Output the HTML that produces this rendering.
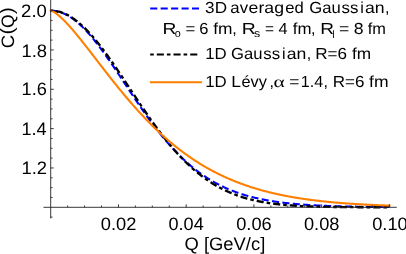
<!DOCTYPE html>
<html><head><meta charset="utf-8"><title>C(Q)</title>
<style>html,body{margin:0;padding:0;background:#fff;}body{width:406px;height:254px;position:relative;overflow:hidden;font-family:"Liberation Sans",sans-serif;}</style>
</head><body>
<svg width="406" height="254" viewBox="0 0 406 254" style="position:absolute;left:0;top:0">
<rect width="406" height="254" fill="#fff"/>
<path d="M50.70,10.60 L51.55,10.61 L52.39,10.65 L53.24,10.71 L54.09,10.80 L54.93,10.90 L55.78,11.04 L56.63,11.20 L57.47,11.38 L58.32,11.59 L59.17,11.82 L60.01,12.07 L60.86,12.35 L61.71,12.65 L62.55,12.98 L63.40,13.33 L64.25,13.70 L65.09,14.09 L65.94,14.51 L66.79,14.95 L67.64,15.42 L68.48,15.90 L69.33,16.41 L70.18,16.94 L71.02,17.49 L71.87,18.07 L72.72,18.66 L73.56,19.28 L74.41,19.92 L75.26,20.58 L76.10,21.26 L76.95,21.95 L77.80,22.67 L78.64,23.41 L79.49,24.17 L80.34,24.95 L81.18,25.74 L82.03,26.55 L82.88,27.39 L83.72,28.24 L84.57,29.10 L85.42,29.99 L86.26,30.89 L87.11,31.81 L87.96,32.74 L88.80,33.69 L89.65,34.65 L90.50,35.63 L91.34,36.63 L92.19,37.64 L93.04,38.66 L93.88,39.70 L94.73,40.75 L95.58,41.81 L96.42,42.88 L97.27,43.97 L98.12,45.07 L98.96,46.18 L99.81,47.30 L100.66,48.44 L101.50,49.58 L102.35,50.73 L103.20,51.89 L104.05,53.06 L104.89,54.24 L105.74,55.43 L106.59,56.63 L107.43,57.83 L108.28,59.04 L109.13,60.26 L109.97,61.49 L110.82,62.72 L111.67,63.95 L112.51,65.19 L113.36,66.44 L114.21,67.69 L115.05,68.95 L115.90,70.21 L116.75,71.47 L117.59,72.73 L118.44,74.00 L119.29,75.27 L120.13,76.55 L120.98,77.82 L121.83,79.10 L122.67,80.38 L123.52,81.65 L124.37,82.93 L125.21,84.21 L126.06,85.49 L126.91,86.77 L127.75,88.04 L128.60,89.32 L129.45,90.59 L130.29,91.87 L131.14,93.14 L131.99,94.41 L132.83,95.67 L133.68,96.94 L134.53,98.20 L135.38,99.45 L136.22,100.70 L137.07,101.95 L137.92,103.20 L138.76,104.44 L139.61,105.67 L140.46,106.90 L141.30,108.13 L142.15,109.35 L143.00,110.56 L143.84,111.77 L144.69,112.97 L145.54,114.17 L146.38,115.36 L147.23,116.55 L148.08,117.72 L148.92,118.89 L149.77,120.05 L150.62,121.21 L151.46,122.36 L152.31,123.50 L153.16,124.63 L154.00,125.76 L154.85,126.87 L155.70,127.98 L156.54,129.08 L157.39,130.18 L158.24,131.26 L159.08,132.34 L159.93,133.40 L160.78,134.46 L161.62,135.51 L162.47,136.55 L163.32,137.58 L164.16,138.60 L165.01,139.61 L165.86,140.62 L166.70,141.61 L167.55,142.59 L168.40,143.57 L169.25,144.53 L170.09,145.49 L170.94,146.44 L171.79,147.37 L172.63,148.30 L173.48,149.22 L174.33,150.13 L175.17,151.02 L176.02,151.91 L176.87,152.79 L177.71,153.66 L178.56,154.52 L179.41,155.37 L180.25,156.20 L181.10,157.03 L181.95,157.85 L182.79,158.66 L183.64,159.46 L184.49,160.25 L185.33,161.03 L186.18,161.81 L187.03,162.57 L187.87,163.32 L188.72,164.06 L189.57,164.79 L190.41,165.52 L191.26,166.23 L192.11,166.93 L192.95,167.63 L193.80,168.31 L194.65,168.99 L195.49,169.66 L196.34,170.32 L197.19,170.96 L198.03,171.60 L198.88,172.23 L199.73,172.86 L200.57,173.47 L201.42,174.07 L202.27,174.67 L203.12,175.25 L203.96,175.83 L204.81,176.40 L205.66,176.96 L206.50,177.52 L207.35,178.06 L208.20,178.60 L209.04,179.12 L209.89,179.64 L210.74,180.16 L211.58,180.66 L212.43,181.16 L213.28,181.64 L214.12,182.12 L214.97,182.60 L215.82,183.06 L216.66,183.52 L217.51,183.97 L218.36,184.41 L219.20,184.85 L220.05,185.28 L220.90,185.70 L221.74,186.11 L222.59,186.52 L223.44,186.92 L224.28,187.32 L225.13,187.71 L225.98,188.09 L226.82,188.46 L227.67,188.83 L228.52,189.19 L229.36,189.55 L230.21,189.90 L231.06,190.24 L231.90,190.58 L232.75,190.91 L233.60,191.23 L234.44,191.55 L235.29,191.87 L236.14,192.18 L236.99,192.48 L237.83,192.78 L238.68,193.07 L239.53,193.36 L240.37,193.64 L241.22,193.92 L242.07,194.19 L242.91,194.46 L243.76,194.72 L244.61,194.97 L245.45,195.23 L246.30,195.47 L247.15,195.72 L247.99,195.96 L248.84,196.19 L249.69,196.42 L250.53,196.65 L251.38,196.87 L252.23,197.08 L253.07,197.30 L253.92,197.50 L254.77,197.71 L255.61,197.91 L256.46,198.11 L257.31,198.30 L258.15,198.49 L259.00,198.68 L259.85,198.86 L260.69,199.04 L261.54,199.21 L262.39,199.38 L263.23,199.55 L264.08,199.72 L264.93,199.88 L265.77,200.04 L266.62,200.19 L267.47,200.34 L268.31,200.49 L269.16,200.64 L270.01,200.78 L270.86,200.92 L271.70,201.06 L272.55,201.20 L273.40,201.33 L274.24,201.46 L275.09,201.59 L275.94,201.71 L276.78,201.83 L277.63,201.95 L278.48,202.07 L279.32,202.18 L280.17,202.30 L281.02,202.41 L281.86,202.51 L282.71,202.62 L283.56,202.72 L284.40,202.82 L285.25,202.92 L286.10,203.02 L286.94,203.11 L287.79,203.21 L288.64,203.30 L289.48,203.39 L290.33,203.47 L291.18,203.56 L292.02,203.64 L292.87,203.72 L293.72,203.80 L294.56,203.88 L295.41,203.96 L296.26,204.04 L297.10,204.11 L297.95,204.18 L298.80,204.25 L299.64,204.32 L300.49,204.39 L301.34,204.45 L302.18,204.52 L303.03,204.58 L303.88,204.64 L304.72,204.70 L305.57,204.76 L306.42,204.82 L307.27,204.88 L308.11,204.93 L308.96,204.99 L309.81,205.04 L310.65,205.09 L311.50,205.14 L312.35,205.19 L313.19,205.24 L314.04,205.29 L314.89,205.34 L315.73,205.38 L316.58,205.43 L317.43,205.47 L318.27,205.51 L319.12,205.55 L319.97,205.59 L320.81,205.63 L321.66,205.67 L322.51,205.71 L323.35,205.75 L324.20,205.78 L325.05,205.82 L325.89,205.86 L326.74,205.89 L327.59,205.92 L328.43,205.95 L329.28,205.99 L330.13,206.02 L330.97,206.05 L331.82,206.08 L332.67,206.11 L333.51,206.14 L334.36,206.16 L335.21,206.19 L336.05,206.22 L336.90,206.24 L337.75,206.27 L338.60,206.29 L339.44,206.32 L340.29,206.34 L341.14,206.36 L341.98,206.39 L342.83,206.41 L343.68,206.43 L344.52,206.45 L345.37,206.47 L346.22,206.49 L347.06,206.51 L347.91,206.53 L348.76,206.55 L349.60,206.57 L350.45,206.58 L351.30,206.60 L352.14,206.62 L352.99,206.64 L353.84,206.65 L354.68,206.67 L355.53,206.68 L356.38,206.70 L357.22,206.71 L358.07,206.73 L358.92,206.74 L359.76,206.76 L360.61,206.77 L361.46,206.78 L362.30,206.79 L363.15,206.81 L364.00,206.82 L364.84,206.83 L365.69,206.84 L366.54,206.85 L367.38,206.87 L368.23,206.88 L369.08,206.89 L369.92,206.90 L370.77,206.91 L371.62,206.92 L372.46,206.93 L373.31,206.94 L374.16,206.95 L375.01,206.95 L375.85,206.96 L376.70,206.97 L377.55,206.98 L378.39,206.99 L379.24,207.00 L380.09,207.00 L380.93,207.01 L381.78,207.02 L382.63,207.03 L383.47,207.03 L384.32,207.04 L385.17,207.05 L386.01,207.05 L386.86,207.06 L387.71,207.07 L388.55,207.07 L389.40,207.08" fill="none" stroke="#0000ff" stroke-width="2.05" stroke-dasharray="7.1 3.35"/>
<path d="M50.70,10.60 L51.55,10.61 L52.39,10.65 L53.24,10.70 L54.09,10.78 L54.93,10.88 L55.78,11.01 L56.63,11.16 L57.47,11.33 L58.32,11.52 L59.17,11.73 L60.01,11.97 L60.86,12.23 L61.71,12.51 L62.55,12.82 L63.40,13.14 L64.25,13.49 L65.09,13.86 L65.94,14.25 L66.79,14.66 L67.64,15.09 L68.48,15.55 L69.33,16.02 L70.18,16.52 L71.02,17.04 L71.87,17.58 L72.72,18.14 L73.56,18.71 L74.41,19.31 L75.26,19.93 L76.10,20.57 L76.95,21.22 L77.80,21.90 L78.64,22.60 L79.49,23.31 L80.34,24.04 L81.18,24.79 L82.03,25.56 L82.88,26.35 L83.72,27.15 L84.57,27.97 L85.42,28.81 L86.26,29.66 L87.11,30.53 L87.96,31.42 L88.80,32.32 L89.65,33.24 L90.50,34.17 L91.34,35.12 L92.19,36.08 L93.04,37.06 L93.88,38.05 L94.73,39.05 L95.58,40.07 L96.42,41.10 L97.27,42.14 L98.12,43.20 L98.96,44.27 L99.81,45.35 L100.66,46.44 L101.50,47.54 L102.35,48.65 L103.20,49.78 L104.05,50.91 L104.89,52.06 L105.74,53.21 L106.59,54.37 L107.43,55.54 L108.28,56.72 L109.13,57.91 L109.97,59.10 L110.82,60.31 L111.67,61.51 L112.51,62.73 L113.36,63.95 L114.21,65.18 L115.05,66.42 L115.90,67.66 L116.75,68.90 L117.59,70.15 L118.44,71.41 L119.29,72.66 L120.13,73.93 L120.98,75.19 L121.83,76.46 L122.67,77.73 L123.52,79.01 L124.37,80.28 L125.21,81.56 L126.06,82.84 L126.91,84.12 L127.75,85.40 L128.60,86.68 L129.45,87.97 L130.29,89.25 L131.14,90.53 L131.99,91.81 L132.83,93.09 L133.68,94.37 L134.53,95.65 L135.38,96.93 L136.22,98.20 L137.07,99.47 L137.92,100.74 L138.76,102.01 L139.61,103.28 L140.46,104.54 L141.30,105.79 L142.15,107.05 L143.00,108.30 L143.84,109.54 L144.69,110.78 L145.54,112.02 L146.38,113.25 L147.23,114.47 L148.08,115.69 L148.92,116.91 L149.77,118.12 L150.62,119.32 L151.46,120.52 L152.31,121.71 L153.16,122.89 L154.00,124.07 L154.85,125.24 L155.70,126.40 L156.54,127.56 L157.39,128.70 L158.24,129.84 L159.08,130.98 L159.93,132.10 L160.78,133.22 L161.62,134.33 L162.47,135.43 L163.32,136.52 L164.16,137.60 L165.01,138.68 L165.86,139.75 L166.70,140.80 L167.55,141.85 L168.40,142.89 L169.25,143.92 L170.09,144.94 L170.94,145.95 L171.79,146.95 L172.63,147.95 L173.48,148.93 L174.33,149.90 L175.17,150.87 L176.02,151.82 L176.87,152.76 L177.71,153.70 L178.56,154.62 L179.41,155.54 L180.25,156.44 L181.10,157.34 L181.95,158.22 L182.79,159.09 L183.64,159.96 L184.49,160.81 L185.33,161.66 L186.18,162.49 L187.03,163.31 L187.87,164.13 L188.72,164.93 L189.57,165.72 L190.41,166.51 L191.26,167.28 L192.11,168.04 L192.95,168.79 L193.80,169.54 L194.65,170.27 L195.49,170.99 L196.34,171.70 L197.19,172.41 L198.03,173.10 L198.88,173.78 L199.73,174.45 L200.57,175.12 L201.42,175.77 L202.27,176.41 L203.12,177.05 L203.96,177.67 L204.81,178.29 L205.66,178.89 L206.50,179.49 L207.35,180.08 L208.20,180.65 L209.04,181.22 L209.89,181.78 L210.74,182.33 L211.58,182.87 L212.43,183.40 L213.28,183.93 L214.12,184.44 L214.97,184.95 L215.82,185.44 L216.66,185.93 L217.51,186.41 L218.36,186.88 L219.20,187.35 L220.05,187.80 L220.90,188.25 L221.74,188.69 L222.59,189.12 L223.44,189.54 L224.28,189.95 L225.13,190.36 L225.98,190.76 L226.82,191.15 L227.67,191.54 L228.52,191.91 L229.36,192.28 L230.21,192.65 L231.06,193.00 L231.90,193.35 L232.75,193.69 L233.60,194.03 L234.44,194.35 L235.29,194.68 L236.14,194.99 L236.99,195.30 L237.83,195.60 L238.68,195.90 L239.53,196.19 L240.37,196.47 L241.22,196.75 L242.07,197.02 L242.91,197.28 L243.76,197.54 L244.61,197.80 L245.45,198.05 L246.30,198.29 L247.15,198.53 L247.99,198.76 L248.84,198.99 L249.69,199.21 L250.53,199.43 L251.38,199.64 L252.23,199.85 L253.07,200.05 L253.92,200.25 L254.77,200.44 L255.61,200.63 L256.46,200.81 L257.31,200.99 L258.15,201.17 L259.00,201.34 L259.85,201.51 L260.69,201.67 L261.54,201.83 L262.39,201.99 L263.23,202.14 L264.08,202.29 L264.93,202.43 L265.77,202.57 L266.62,202.71 L267.47,202.84 L268.31,202.97 L269.16,203.10 L270.01,203.22 L270.86,203.34 L271.70,203.46 L272.55,203.57 L273.40,203.69 L274.24,203.79 L275.09,203.90 L275.94,204.00 L276.78,204.10 L277.63,204.20 L278.48,204.29 L279.32,204.39 L280.17,204.48 L281.02,204.56 L281.86,204.65 L282.71,204.73 L283.56,204.81 L284.40,204.89 L285.25,204.96 L286.10,205.04 L286.94,205.11 L287.79,205.18 L288.64,205.25 L289.48,205.31 L290.33,205.38 L291.18,205.44 L292.02,205.50 L292.87,205.56 L293.72,205.61 L294.56,205.67 L295.41,205.72 L296.26,205.77 L297.10,205.83 L297.95,205.87 L298.80,205.92 L299.64,205.97 L300.49,206.01 L301.34,206.06 L302.18,206.10 L303.03,206.14 L303.88,206.18 L304.72,206.22 L305.57,206.25 L306.42,206.29 L307.27,206.32 L308.11,206.36 L308.96,206.39 L309.81,206.42 L310.65,206.45 L311.50,206.48 L312.35,206.51 L313.19,206.54 L314.04,206.56 L314.89,206.59 L315.73,206.62 L316.58,206.64 L317.43,206.66 L318.27,206.69 L319.12,206.71 L319.97,206.73 L320.81,206.75 L321.66,206.77 L322.51,206.79 L323.35,206.81 L324.20,206.83 L325.05,206.84 L325.89,206.86 L326.74,206.88 L327.59,206.89 L328.43,206.91 L329.28,206.92 L330.13,206.94 L330.97,206.95 L331.82,206.96 L332.67,206.98 L333.51,206.99 L334.36,207.00 L335.21,207.01 L336.05,207.02 L336.90,207.03 L337.75,207.04 L338.60,207.05 L339.44,207.06 L340.29,207.07 L341.14,207.08 L341.98,207.09 L342.83,207.10 L343.68,207.11 L344.52,207.11 L345.37,207.12 L346.22,207.13 L347.06,207.13 L347.91,207.14 L348.76,207.15 L349.60,207.15 L350.45,207.16 L351.30,207.16 L352.14,207.17 L352.99,207.18 L353.84,207.18 L354.68,207.19 L355.53,207.19 L356.38,207.19 L357.22,207.20 L358.07,207.20 L358.92,207.21 L359.76,207.21 L360.61,207.21 L361.46,207.22 L362.30,207.22 L363.15,207.22 L364.00,207.23 L364.84,207.23 L365.69,207.23 L366.54,207.24 L367.38,207.24 L368.23,207.24 L369.08,207.24 L369.92,207.25 L370.77,207.25 L371.62,207.25 L372.46,207.25 L373.31,207.26 L374.16,207.26 L375.01,207.26 L375.85,207.26 L376.70,207.26 L377.55,207.26 L378.39,207.27 L379.24,207.27 L380.09,207.27 L380.93,207.27 L381.78,207.27 L382.63,207.27 L383.47,207.27 L384.32,207.27 L385.17,207.28 L386.01,207.28 L386.86,207.28 L387.71,207.28 L388.55,207.28 L389.40,207.28" fill="none" stroke="#000" stroke-width="2.35" stroke-dasharray="3.6 3 7.1 3" stroke-dashoffset="1.1"/>
<path d="M50.70,10.60 L51.55,10.61 L52.39,10.65 L53.24,10.70 L54.09,10.78 L54.93,10.88 L55.78,11.01 L56.63,11.16 L57.47,11.33 L58.32,11.52" fill="none" stroke="#000" stroke-width="1.2" transform="translate(-0.2,0.6)"/>
<path d="M50.70,10.60 L51.55,10.81 L52.39,11.16 L53.24,11.59 L54.09,12.07 L54.93,12.61 L55.78,13.19 L56.63,13.81 L57.47,14.46 L58.32,15.15 L59.17,15.86 L60.01,16.60 L60.86,17.37 L61.71,18.15 L62.55,18.96 L63.40,19.79 L64.25,20.63 L65.09,21.50 L65.94,22.38 L66.79,23.27 L67.64,24.18 L68.48,25.11 L69.33,26.05 L70.18,27.00 L71.02,27.96 L71.87,28.93 L72.72,29.91 L73.56,30.90 L74.41,31.90 L75.26,32.91 L76.10,33.93 L76.95,34.95 L77.80,35.99 L78.64,37.03 L79.49,38.07 L80.34,39.12 L81.18,40.18 L82.03,41.24 L82.88,42.31 L83.72,43.38 L84.57,44.45 L85.42,45.53 L86.26,46.61 L87.11,47.70 L87.96,48.78 L88.80,49.87 L89.65,50.96 L90.50,52.06 L91.34,53.15 L92.19,54.25 L93.04,55.35 L93.88,56.45 L94.73,57.55 L95.58,58.65 L96.42,59.75 L97.27,60.84 L98.12,61.94 L98.96,63.04 L99.81,64.14 L100.66,65.24 L101.50,66.34 L102.35,67.43 L103.20,68.52 L104.05,69.62 L104.89,70.71 L105.74,71.80 L106.59,72.88 L107.43,73.97 L108.28,75.05 L109.13,76.13 L109.97,77.21 L110.82,78.28 L111.67,79.35 L112.51,80.42 L113.36,81.49 L114.21,82.55 L115.05,83.61 L115.90,84.66 L116.75,85.71 L117.59,86.76 L118.44,87.81 L119.29,88.85 L120.13,89.88 L120.98,90.91 L121.83,91.94 L122.67,92.97 L123.52,93.99 L124.37,95.00 L125.21,96.01 L126.06,97.02 L126.91,98.02 L127.75,99.02 L128.60,100.01 L129.45,100.99 L130.29,101.98 L131.14,102.95 L131.99,103.93 L132.83,104.89 L133.68,105.86 L134.53,106.81 L135.38,107.77 L136.22,108.71 L137.07,109.65 L137.92,110.59 L138.76,111.52 L139.61,112.44 L140.46,113.36 L141.30,114.28 L142.15,115.19 L143.00,116.09 L143.84,116.99 L144.69,117.88 L145.54,118.77 L146.38,119.65 L147.23,120.52 L148.08,121.39 L148.92,122.25 L149.77,123.11 L150.62,123.96 L151.46,124.81 L152.31,125.65 L153.16,126.49 L154.00,127.31 L154.85,128.14 L155.70,128.95 L156.54,129.77 L157.39,130.57 L158.24,131.37 L159.08,132.16 L159.93,132.95 L160.78,133.73 L161.62,134.51 L162.47,135.28 L163.32,136.05 L164.16,136.80 L165.01,137.56 L165.86,138.30 L166.70,139.05 L167.55,139.78 L168.40,140.51 L169.25,141.23 L170.09,141.95 L170.94,142.66 L171.79,143.37 L172.63,144.07 L173.48,144.77 L174.33,145.45 L175.17,146.14 L176.02,146.82 L176.87,147.49 L177.71,148.15 L178.56,148.81 L179.41,149.47 L180.25,150.12 L181.10,150.76 L181.95,151.40 L182.79,152.03 L183.64,152.66 L184.49,153.28 L185.33,153.90 L186.18,154.51 L187.03,155.11 L187.87,155.71 L188.72,156.31 L189.57,156.89 L190.41,157.48 L191.26,158.05 L192.11,158.63 L192.95,159.19 L193.80,159.76 L194.65,160.31 L195.49,160.86 L196.34,161.41 L197.19,161.95 L198.03,162.49 L198.88,163.02 L199.73,163.54 L200.57,164.06 L201.42,164.58 L202.27,165.09 L203.12,165.60 L203.96,166.10 L204.81,166.59 L205.66,167.08 L206.50,167.57 L207.35,168.05 L208.20,168.53 L209.04,169.00 L209.89,169.47 L210.74,169.93 L211.58,170.39 L212.43,170.84 L213.28,171.29 L214.12,171.73 L214.97,172.17 L215.82,172.60 L216.66,173.03 L217.51,173.46 L218.36,173.88 L219.20,174.30 L220.05,174.71 L220.90,175.12 L221.74,175.52 L222.59,175.92 L223.44,176.31 L224.28,176.71 L225.13,177.09 L225.98,177.47 L226.82,177.85 L227.67,178.23 L228.52,178.60 L229.36,178.96 L230.21,179.33 L231.06,179.68 L231.90,180.04 L232.75,180.39 L233.60,180.74 L234.44,181.08 L235.29,181.42 L236.14,181.75 L236.99,182.08 L237.83,182.41 L238.68,182.74 L239.53,183.06 L240.37,183.37 L241.22,183.69 L242.07,184.00 L242.91,184.30 L243.76,184.61 L244.61,184.90 L245.45,185.20 L246.30,185.49 L247.15,185.78 L247.99,186.07 L248.84,186.35 L249.69,186.63 L250.53,186.90 L251.38,187.18 L252.23,187.45 L253.07,187.71 L253.92,187.98 L254.77,188.24 L255.61,188.49 L256.46,188.75 L257.31,189.00 L258.15,189.25 L259.00,189.49 L259.85,189.73 L260.69,189.97 L261.54,190.21 L262.39,190.44 L263.23,190.67 L264.08,190.90 L264.93,191.12 L265.77,191.35 L266.62,191.57 L267.47,191.78 L268.31,192.00 L269.16,192.21 L270.01,192.42 L270.86,192.62 L271.70,192.83 L272.55,193.03 L273.40,193.23 L274.24,193.42 L275.09,193.62 L275.94,193.81 L276.78,194.00 L277.63,194.19 L278.48,194.37 L279.32,194.55 L280.17,194.73 L281.02,194.91 L281.86,195.08 L282.71,195.26 L283.56,195.43 L284.40,195.60 L285.25,195.76 L286.10,195.93 L286.94,196.09 L287.79,196.25 L288.64,196.41 L289.48,196.56 L290.33,196.72 L291.18,196.87 L292.02,197.02 L292.87,197.17 L293.72,197.31 L294.56,197.46 L295.41,197.60 L296.26,197.74 L297.10,197.88 L297.95,198.02 L298.80,198.15 L299.64,198.28 L300.49,198.42 L301.34,198.55 L302.18,198.67 L303.03,198.80 L303.88,198.93 L304.72,199.05 L305.57,199.17 L306.42,199.29 L307.27,199.41 L308.11,199.52 L308.96,199.64 L309.81,199.75 L310.65,199.86 L311.50,199.97 L312.35,200.08 L313.19,200.19 L314.04,200.30 L314.89,200.40 L315.73,200.50 L316.58,200.61 L317.43,200.71 L318.27,200.80 L319.12,200.90 L319.97,201.00 L320.81,201.09 L321.66,201.19 L322.51,201.28 L323.35,201.37 L324.20,201.46 L325.05,201.55 L325.89,201.63 L326.74,201.72 L327.59,201.81 L328.43,201.89 L329.28,201.97 L330.13,202.05 L330.97,202.13 L331.82,202.21 L332.67,202.29 L333.51,202.37 L334.36,202.44 L335.21,202.52 L336.05,202.59 L336.90,202.66 L337.75,202.73 L338.60,202.80 L339.44,202.87 L340.29,202.94 L341.14,203.01 L341.98,203.08 L342.83,203.14 L343.68,203.21 L344.52,203.27 L345.37,203.33 L346.22,203.39 L347.06,203.46 L347.91,203.52 L348.76,203.57 L349.60,203.63 L350.45,203.69 L351.30,203.75 L352.14,203.80 L352.99,203.86 L353.84,203.91 L354.68,203.97 L355.53,204.02 L356.38,204.07 L357.22,204.12 L358.07,204.17 L358.92,204.22 L359.76,204.27 L360.61,204.32 L361.46,204.37 L362.30,204.41 L363.15,204.46 L364.00,204.50 L364.84,204.55 L365.69,204.59 L366.54,204.64 L367.38,204.68 L368.23,204.72 L369.08,204.76 L369.92,204.80 L370.77,204.84 L371.62,204.88 L372.46,204.92 L373.31,204.96 L374.16,205.00 L375.01,205.04 L375.85,205.07 L376.70,205.11 L377.55,205.14 L378.39,205.18 L379.24,205.21 L380.09,205.25 L380.93,205.28 L381.78,205.31 L382.63,205.35 L383.47,205.38 L384.32,205.41 L385.17,205.44 L386.01,205.47 L386.86,205.50 L387.71,205.53 L388.55,205.56 L389.40,205.59" fill="none" stroke="#ff8000" stroke-width="2.1" stroke-linecap="square"/>
<g stroke="#222" stroke-width="0.9" fill="none">
<path d="M43.5,207.3 H396.8"/>
<path d="M50.7,0 V218.4"/>
<path d="M67.64,207.3 v-1.8"/>
<path d="M84.57,207.3 v-1.8"/>
<path d="M101.50,207.3 v-1.8"/>
<path d="M118.44,207.3 v-3.0"/>
<path d="M135.38,207.3 v-1.8"/>
<path d="M152.31,207.3 v-1.8"/>
<path d="M169.25,207.3 v-1.8"/>
<path d="M186.18,207.3 v-3.0"/>
<path d="M203.12,207.3 v-1.8"/>
<path d="M220.05,207.3 v-1.8"/>
<path d="M236.99,207.3 v-1.8"/>
<path d="M253.92,207.3 v-3.0"/>
<path d="M270.86,207.3 v-1.8"/>
<path d="M287.79,207.3 v-1.8"/>
<path d="M304.72,207.3 v-1.8"/>
<path d="M321.66,207.3 v-3.0"/>
<path d="M338.60,207.3 v-1.8"/>
<path d="M355.53,207.3 v-1.8"/>
<path d="M372.46,207.3 v-1.8"/>
<path d="M389.40,207.3 v-3.0"/>
<path d="M50.7,217.14 h1.8"/>
<path d="M50.7,197.47 h1.8"/>
<path d="M50.7,187.63 h1.8"/>
<path d="M50.7,177.80 h1.8"/>
<path d="M50.7,167.96 h3.0"/>
<path d="M50.7,158.12 h1.8"/>
<path d="M50.7,148.29 h1.8"/>
<path d="M50.7,138.45 h1.8"/>
<path d="M50.7,128.62 h3.0"/>
<path d="M50.7,118.79 h1.8"/>
<path d="M50.7,108.95 h1.8"/>
<path d="M50.7,99.12 h1.8"/>
<path d="M50.7,89.28 h3.0"/>
<path d="M50.7,79.45 h1.8"/>
<path d="M50.7,69.61 h1.8"/>
<path d="M50.7,59.78 h1.8"/>
<path d="M50.7,49.94 h3.0"/>
<path d="M50.7,40.10 h1.8"/>
<path d="M50.7,30.27 h1.8"/>
<path d="M50.7,20.43 h1.8"/>
<path d="M50.7,10.60 h3.0"/>
</g>
<path d="M150.2,8.4 H199" stroke="#0000ff" stroke-width="2" stroke-dasharray="7.1 3.35" fill="none"/>
<path d="M150.2,54.5 H198" stroke="#000" stroke-width="2.2" stroke-dasharray="3.6 3 7.1 3" fill="none"/>
<path d="M149.9,82.2 H202" stroke="#ff8000" stroke-width="2" fill="none"/>
<g font-family="Liberation Sans, sans-serif" fill="#000" style="filter:grayscale(1)" text-rendering="geometricPrecision">
<text font-size="18" x="21.49" y="174.46" textLength="25.63" lengthAdjust="spacingAndGlyphs">1.2</text>
<text font-size="18" x="21.51" y="135.12" textLength="25.21" lengthAdjust="spacingAndGlyphs">1.4</text>
<text font-size="18" x="21.51" y="94.98" textLength="25.38" lengthAdjust="spacingAndGlyphs">1.6</text>
<text font-size="18" x="21.49" y="56.74" textLength="25.60" lengthAdjust="spacingAndGlyphs">1.8</text>
<text font-size="18" x="21.10" y="17.40" textLength="25.73" lengthAdjust="spacingAndGlyphs">2.0</text>
<text font-size="18" x="100.74" y="229.6" textLength="35.62" lengthAdjust="spacingAndGlyphs">0.02</text>
<text font-size="18" x="168.49" y="229.6" textLength="35.23" lengthAdjust="spacingAndGlyphs">0.04</text>
<text font-size="18" x="236.22" y="229.6" textLength="35.49" lengthAdjust="spacingAndGlyphs">0.06</text>
<text font-size="18" x="303.96" y="229.6" textLength="35.49" lengthAdjust="spacingAndGlyphs">0.08</text>
<text font-size="18" x="372.20" y="229.6" textLength="35.53" lengthAdjust="spacingAndGlyphs">0.10</text>
<text font-size="18" x="184.51" y="250" textLength="80.76" lengthAdjust="spacingAndGlyphs">Q [GeV/c]</text>
<text font-size="18" transform="translate(14.3,48.36) rotate(-90) scale(1.0286,1)">C</text>
<text font-size="19" transform="translate(13.2,34.43) rotate(-90) scale(1.1200,1)">(</text>
<text font-size="18" transform="translate(14.3,28.05) rotate(-90) scale(0.9714,1)">Q</text>
<text font-size="19" transform="translate(13.2,13.93) rotate(-90) scale(1.0600,1)">)</text>
<text font-size="16" x="205.13" y="13.2" textLength="21.89" lengthAdjust="spacingAndGlyphs">3D</text>
<text font-size="16" x="230.38" y="13.2" textLength="17.71" lengthAdjust="spacingAndGlyphs">av</text>
<text font-size="16" x="248.64" y="13.2" textLength="35.39" lengthAdjust="spacingAndGlyphs">erag</text>
<text font-size="16" x="285.29" y="13.2" textLength="18.50" lengthAdjust="spacingAndGlyphs">ed</text>
<text font-size="16" x="309.26" y="13.2" textLength="31.44" lengthAdjust="spacingAndGlyphs">Gau</text>
<text font-size="16" x="341.64" y="13.2" textLength="16.85" lengthAdjust="spacingAndGlyphs">ss</text>
<text font-size="16" x="360.32" y="13.2">i</text>
<text font-size="16" x="365.04" y="13.2" textLength="19.61" lengthAdjust="spacingAndGlyphs">an</text>
<text font-size="16" x="385.03" y="13.2">,</text>
<text font-size="16" x="162.53" y="34.2" textLength="13.87" lengthAdjust="spacingAndGlyphs">R</text>
<text font-size="11" x="174.77" y="37.4" textLength="6.01" lengthAdjust="spacingAndGlyphs">o</text>
<text font-size="16" x="185.55" y="34.2" textLength="9.77" lengthAdjust="spacingAndGlyphs">=</text>
<text font-size="16" x="199.36" y="34.2" textLength="9.17" lengthAdjust="spacingAndGlyphs">6</text>
<text font-size="16" x="213.23" y="34.2" textLength="19.25" lengthAdjust="spacingAndGlyphs">fm</text>
<text font-size="16" x="232.23" y="34.2">,</text>
<text font-size="16" x="241.71" y="34.2" textLength="13.99" lengthAdjust="spacingAndGlyphs">R</text>
<text font-size="11" x="253.95" y="37.4" textLength="6.17" lengthAdjust="spacingAndGlyphs">s</text>
<text font-size="16" x="265.01" y="34.2" textLength="9.04" lengthAdjust="spacingAndGlyphs">=</text>
<text font-size="16" x="278.62" y="34.2" textLength="9.05" lengthAdjust="spacingAndGlyphs">4</text>
<text font-size="16" x="292.84" y="34.2" textLength="18.71" lengthAdjust="spacingAndGlyphs">fm</text>
<text font-size="16" x="311.03" y="34.2">,</text>
<text font-size="16" x="320.34" y="34.2" textLength="13.74" lengthAdjust="spacingAndGlyphs">R</text>
<text font-size="10.6" x="332.34" y="37.6">l</text>
<text font-size="16" x="338.91" y="34.2" textLength="10.25" lengthAdjust="spacingAndGlyphs">=</text>
<text font-size="16" x="353.84" y="34.2" textLength="9.85" lengthAdjust="spacingAndGlyphs">8</text>
<text font-size="16" x="367.74" y="34.2" textLength="18.17" lengthAdjust="spacingAndGlyphs">fm</text>
<text font-size="16" x="205.18" y="59.0" textLength="21.52" lengthAdjust="spacingAndGlyphs">1D</text>
<text font-size="16" x="230.96" y="59.0" textLength="31.44" lengthAdjust="spacingAndGlyphs">Gau</text>
<text font-size="16" x="263.34" y="59.0" textLength="16.85" lengthAdjust="spacingAndGlyphs">ss</text>
<text font-size="16" x="282.02" y="59.0">i</text>
<text font-size="16" x="286.74" y="59.0" textLength="19.61" lengthAdjust="spacingAndGlyphs">an</text>
<text font-size="16" x="306.73" y="59.0">,</text>
<text font-size="16" x="315.30" y="59.0" textLength="31.78" lengthAdjust="spacingAndGlyphs">R=6</text>
<text font-size="16" x="352.03" y="59.0" textLength="19.14" lengthAdjust="spacingAndGlyphs">fm</text>
<text font-size="16" x="205.18" y="86.8" textLength="21.52" lengthAdjust="spacingAndGlyphs">1D</text>
<text font-size="16" x="231.17" y="86.8" textLength="9.70" lengthAdjust="spacingAndGlyphs">L</text>
<text font-size="16" x="241.50" y="86.8" textLength="25.39" lengthAdjust="spacingAndGlyphs">évy</text>
<text font-size="16" x="269.58" y="86.8">,</text>
<text font-size="16" x="273.56" y="86.8" textLength="11.25" lengthAdjust="spacingAndGlyphs" font-family="Liberation Serif, serif">α</text>
<text font-size="16" x="289.32" y="86.8" textLength="10.13" lengthAdjust="spacingAndGlyphs">=</text>
<text font-size="16" x="300.74" y="86.8" textLength="22.39" lengthAdjust="spacingAndGlyphs">1.4</text>
<text font-size="16" x="323.58" y="86.8">,</text>
<text font-size="16" x="332.70" y="86.8" textLength="31.68" lengthAdjust="spacingAndGlyphs">R=6</text>
<text font-size="16" x="369.03" y="86.8" textLength="19.46" lengthAdjust="spacingAndGlyphs">fm</text>
</g>
</svg>
</body></html>
